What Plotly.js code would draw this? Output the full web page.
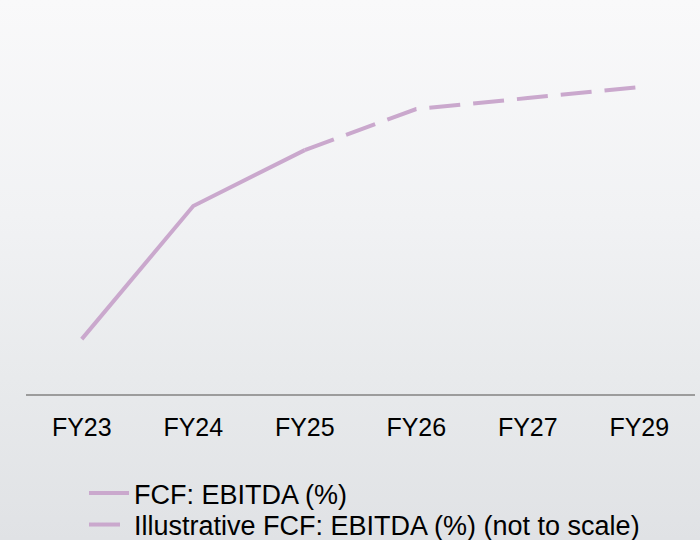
<!DOCTYPE html>
<html>
<head>
<meta charset="utf-8">
<script src="https://cdn.plot.ly/plotly-3.0.1.min.js"></script>
<style>
  html, body { margin: 0; padding: 0; }
  body { width: 700px; height: 540px; overflow: hidden;
         background: linear-gradient(180deg, #f9f9fa 0%, #f1f2f4 40%, #e8eaec 70%, #e0e2e5 100%); }
  #chart { width: 700px; height: 540px; }
</style>
</head>
<body>
<div id="chart"></div>
<script>
// Categories (fiscal years)
const categories = ["FY23", "FY24", "FY25", "FY26", "FY27", "FY29"];
// Actual FCF: EBITDA (%) — FY23 to FY25 (relative values, axis hidden)
const actualYears = ["FY23", "FY24", "FY25"];
const actualValues = [15.5, 53.1, 68.9];
// Illustrative FCF: EBITDA (%) (not to scale) — FY25 to FY29
const illustrativeYears = ["FY25", "FY26", "FY27", "FY29"];
const illustrativeValues = [68.9, 80.5, 83.6, 86.7];

const seriesNames = ["FCF: EBITDA (%)", "Illustrative FCF: EBITDA (%) (not to scale)"];
const lineColor = "#caa8cd";

const traces = [
  {
    x: actualYears, y: actualValues, type: "scatter", mode: "lines",
    name: seriesNames[0],
    legend: "legend",
    line: { color: lineColor, width: 4 },
    hoverinfo: "skip"
  },
  {
    x: illustrativeYears, y: illustrativeValues, type: "scatter", mode: "lines",
    name: seriesNames[1],
    legend: "legend2",
    line: { color: lineColor, width: 4, dash: "31px,13px" },
    hoverinfo: "skip"
  }
];

const legendCommon = {
  orientation: "v",
  xref: "paper", yref: "paper",
  x: 0.0867, xanchor: "left",
  yanchor: "middle",
  font: { size: 27, color: "#000000", family: "Liberation Sans, Arial, sans-serif" },
  bgcolor: "rgba(0,0,0,0)",
  itemwidth: 40
};

const layout = {
  width: 700, height: 540,
  paper_bgcolor: "rgba(0,0,0,0)",
  plot_bgcolor: "rgba(0,0,0,0)",
  margin: { l: 26, r: 5, t: 40, b: 146, autoexpand: false },
  font: { family: "Liberation Sans, Arial, sans-serif", color: "#000000", size: 25 },
  showlegend: true,
  legend: Object.assign({}, legendCommon, { y: -0.281 }),
  legend2: Object.assign({}, legendCommon, { y: -0.370 }),
  xaxis: {
    type: "category",
    categoryorder: "array",
    categoryarray: categories,
    tickvals: categories,
    ticktext: categories,
    range: [-0.5, 5.5],
    showgrid: false, zeroline: false,
    showline: true, linecolor: "#9c9c9c", linewidth: 2,
    ticks: "", ticklabelstandoff: 10,
    tickfont: { size: 25, color: "#000000" },
    fixedrange: true
  },
  yaxis: {
    range: [0, 100],
    visible: false,
    showgrid: false, zeroline: false,
    fixedrange: true
  }
};

function fixLegendDash() {
  // Legend key of the dashed series: a single 31px dash, as in the reference
  var all = document.querySelectorAll("#chart .infolayer path");
  all.forEach(function (p) {
    var d = p.style.strokeDasharray || p.getAttribute("stroke-dasharray");
    if (d && d !== "none" && d !== "") {
      p.style.strokeDasharray = "31px, 60px";
      p.style.strokeDashoffset = "0px";
    }
  });
}

Plotly.newPlot("chart", traces, layout, { displayModeBar: false, staticPlot: true }).then(function () {
  fixLegendDash();
  setTimeout(fixLegendDash, 0);
});
</script>
</body>
</html>
